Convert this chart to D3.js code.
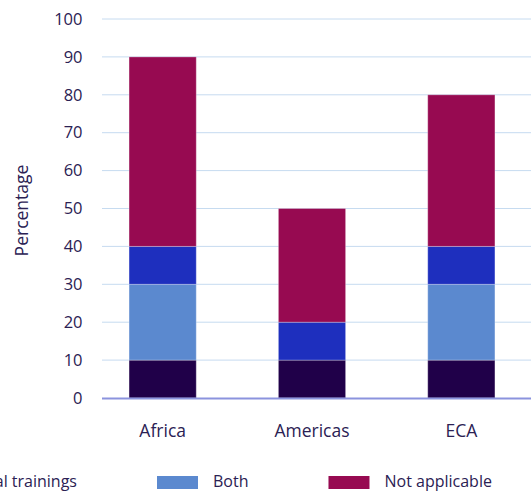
<!DOCTYPE html>
<html><head><meta charset="utf-8">
<script src="https://cdn.jsdelivr.net/npm/d3@7"></script>
<style>body{margin:0;background:#fff}svg{display:block;font-family:"Open Sans","Noto Sans",sans-serif}</style>
</head><body><svg id="c" width="531" height="494"></svg>
<script>
const categories = ["Africa","Americas","ECA"];
const seriesNames = ["In-person trainings","Virtual trainings","Both","Not applicable"];
const inPerson = [10,10,10];
const virtualT = [10,10,10];
const both = [20,0,20];
const notApplicable = [50,30,40];
const yTicks = [0,10,20,30,40,50,60,70,80,90,100];
const colors = {"In-person trainings":"#200049","Virtual trainings":"#1e2fbe","Both":"#5b89cf","Not applicable":"#970a51"};
const stackOrder = ["In-person trainings","Both","Virtual trainings","Not applicable"];
const valuesBy = {"In-person trainings":inPerson,"Virtual trainings":virtualT,"Both":both,"Not applicable":notApplicable};

const svg = d3.select("#c");
const textColor = "#2b2153";
const y = d3.scaleLinear().domain([0,100]).range([398,19]);
const x = d3.scaleBand().domain(categories).range([88,536]).paddingInner(0.55).paddingOuter(0.275);

// gridlines
svg.append("g").selectAll("line").data(yTicks.filter(d=>d>0)).join("line")
  .attr("x1",102).attr("x2",531).attr("y1",d=>y(d)).attr("y2",d=>y(d))
  .attr("stroke","#c6dbf0").attr("stroke-width",1);

// y axis labels
const ya = svg.append("g").attr("transform","translate(82.5,0)")
  .call(d3.axisLeft(y).tickValues(yTicks).tickSize(0).tickPadding(0));
ya.select(".domain").remove();
ya.selectAll("text").attr("font-size",16.5).attr("fill",textColor).attr("font-family","'Open Sans','Noto Sans',sans-serif");

svg.append("text").attr("transform","translate(28,210.5) rotate(-90)")
  .attr("text-anchor","middle").attr("font-size",17.5).attr("fill",textColor).text("Percentage");

// stacks
const rows = categories.map((c,i)=>{const r={cat:c}; seriesNames.forEach(s=>r[s]=valuesBy[s][i]); return r;});
const stacked = d3.stack().keys(stackOrder)(rows);
svg.append("g").selectAll("g").data(stacked).join("g")
  .attr("fill",d=>colors[d.key])
  .selectAll("rect").data(d=>d).join("rect")
  .attr("x",d=>x(d.data.cat)).attr("width",x.bandwidth())
  .attr("y",d=>y(d[1])).attr("height",d=>Math.max(0,y(d[0])-y(d[1])))
  .attr("stroke","rgba(255,255,255,0.3)").attr("stroke-width",1);

// baseline
svg.append("line").attr("x1",102).attr("x2",531).attr("y1",y(0)+0.5).attr("y2",y(0)+0.5)
  .attr("stroke","#8b93de").attr("stroke-width",2);

// x axis labels
const xa = svg.append("g").attr("transform","translate(0,437)")
  .call(d3.axisBottom(x).tickSize(0).tickPadding(0));
xa.select(".domain").remove();
xa.selectAll("text").attr("font-size",17.5).attr("fill",textColor).attr("dy","0").attr("font-family","'Open Sans','Noto Sans',sans-serif");

// legend
const lg = svg.append("g");
const items = lg.selectAll("g").data(seriesNames).join("g");
items.append("rect").attr("width",41).attr("height",13).attr("y",476).attr("fill",d=>colors[d]);
items.append("text").attr("x",56).attr("y",487).attr("font-size",16).attr("fill",textColor).text(d=>d);
let cx = 0; const pos = [];
items.each(function(d){ pos.push(cx); const w=d3.select(this).select("text").node().getComputedTextLength(); cx += 56 + w + 80; });
const shift = 157 - pos[2];
items.attr("transform",(d,i)=>`translate(${pos[i]+shift},0)`);
</script></body></html>
